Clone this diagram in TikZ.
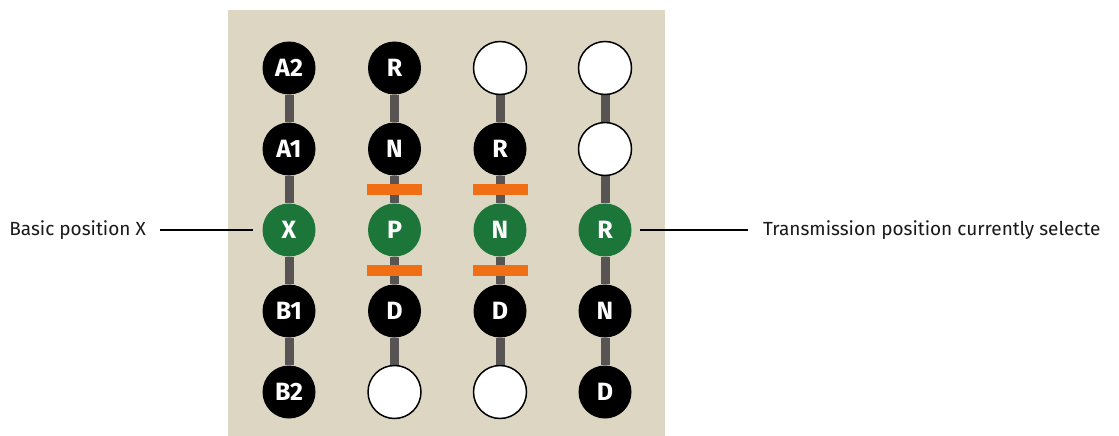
\documentclass[tikz,border=0pt]{standalone}
\usepackage{fontspec}
\setmainfont{Fira Sans}
\usetikzlibrary{backgrounds}
\definecolor{panel}{RGB}{221,214,194}
\definecolor{sel}{RGB}{28,118,58}
\definecolor{rod}{RGB}{88,84,84}
\definecolor{stopc}{RGB}{240,110,20}
\tikzset{
  gearpos/.style={circle,minimum size=53pt,inner sep=0pt,font=\fontsize{25}{25}\selectfont\bfseries,text=white},
  blk/.style={gearpos,fill=black},
  grn/.style={gearpos,fill=sel},
  emp/.style={gearpos,fill=white,draw=black,line width=1.5pt},
  rodline/.style={draw=rod,line width=9pt},
  lbl/.style={font=\fontsize{19}{19}\selectfont,inner sep=0pt,text=black!90},
  ptr/.style={draw=black,line width=1.8pt}
}
\begin{document}
\begin{tikzpicture}[x=1pt,y=-1pt]
\useasboundingbox (0,0) rectangle (1119,436);
\def\cA{289}\def\cB{394.5}\def\cC{500}\def\cD{605}
\def\rA{68}\def\rB{149}\def\rC{230}\def\rD{311}\def\rE{392}
% column 1
\node[blk] (a1) at (\cA,\rA) {A2};
\node[blk] (a2) at (\cA,\rB) {A1};
\node[grn] (a3) at (\cA,\rC) {X};
\node[blk] (a4) at (\cA,\rD) {B1};
\node[blk] (a5) at (\cA,\rE) {B2};
% column 2
\node[blk] (b1) at (\cB,\rA) {R};
\node[blk] (b2) at (\cB,\rB) {N};
\node[grn] (b3) at (\cB,\rC) {P};
\node[blk] (b4) at (\cB,\rD) {D};
\node[emp] (b5) at (\cB,\rE) {};
% column 3
\node[emp] (c1) at (\cC,\rA) {};
\node[blk] (c2) at (\cC,\rB) {R};
\node[grn] (c3) at (\cC,\rC) {N};
\node[blk] (c4) at (\cC,\rD) {D};
\node[emp] (c5) at (\cC,\rE) {};
% column 4
\node[emp] (d1) at (\cD,\rA) {};
\node[emp] (d2) at (\cD,\rB) {};
\node[grn] (d3) at (\cD,\rC) {R};
\node[blk] (d4) at (\cD,\rD) {N};
\node[blk] (d5) at (\cD,\rE) {D};
\begin{pgfonlayer}{background}
\fill[white] (0,0) rectangle (1119,436);
\fill[panel] (228,10) rectangle (665,436);
\foreach \k in {a,b,c,d}{
  \draw[rodline] (\k1) -- (\k2);
  \draw[rodline] (\k2) -- (\k3);
  \draw[rodline] (\k3) -- (\k4);
  \draw[rodline] (\k4) -- (\k5);
}
\end{pgfonlayer}
% stops
\foreach \x in {\cB,\cC}{
  \fill[stopc] (\x-27.5,183.5) rectangle (\x+27.5,194.5);
  \fill[stopc] (\x-27.5,264.5) rectangle (\x+27.5,275.5);
}
% labels
\node[lbl,anchor=east] (lblL) at (146,230) {Basic position X};
\coordinate (pL) at (253,230);
\draw[ptr,shorten <=14pt] (lblL.east) -- (pL);
\node[lbl,anchor=west] (lblR) at (763,230) {Transmission position currently selecte};
\coordinate (pR) at (640,230);
\draw[ptr,shorten <=15pt] (lblR.west) -- (pR);
\end{tikzpicture}
\end{document}
